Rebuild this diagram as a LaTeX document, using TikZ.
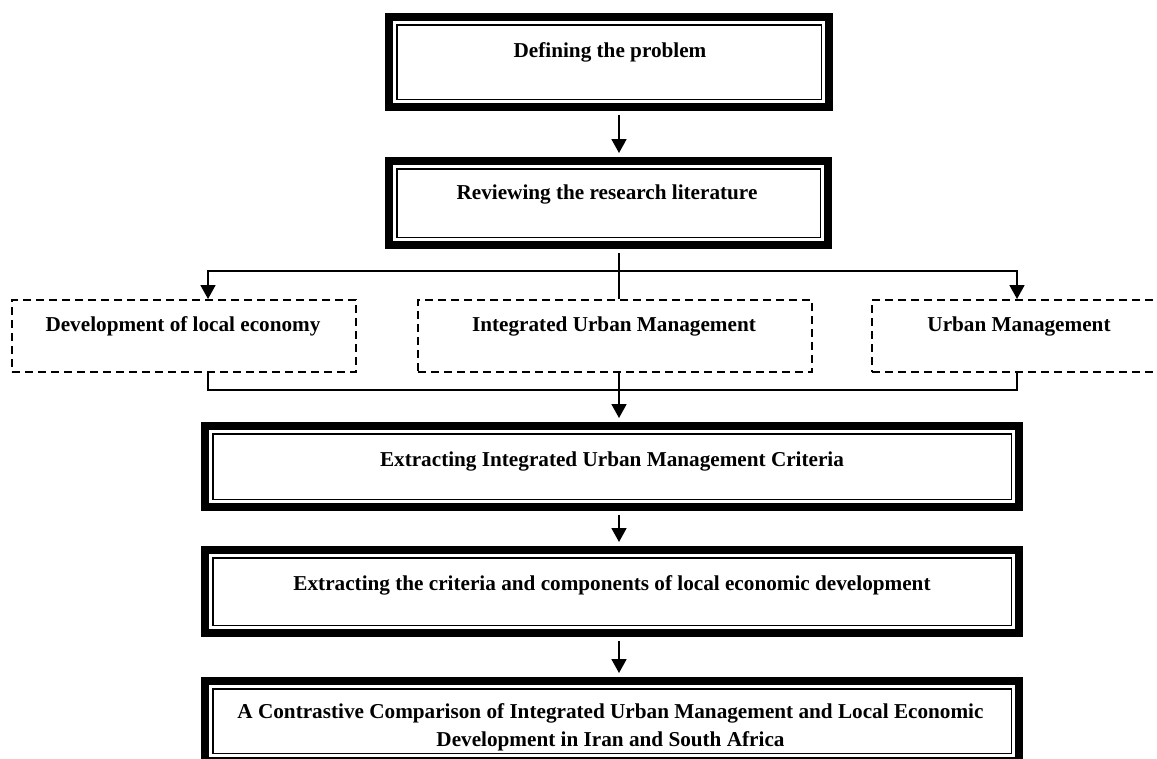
\documentclass[tikz,border=0pt]{standalone}
\usepackage{fontspec}
\setmainfont{Liberation Serif}
\usetikzlibrary{arrows.meta,calc}
\tikzset{
  frame/.style={draw, line width=8pt, inner sep=0pt,
    path picture={\draw[line width=1.8pt]
      ([shift={(7.6pt,-7.6pt)}]path picture bounding box.north west) rectangle
      ([shift={(-7.6pt,7.6pt)}]path picture bounding box.south east);}},
  dbox/.style={draw, line width=2pt, dash pattern=on 8pt off 5pt, inner sep=0pt, minimum height=72pt},
  lbl/.style={anchor=base, inner sep=0pt, align=center, font=\fontsize{21.2}{28.5}\selectfont\bfseries},
  conn/.style={line width=1.8pt},
  arr/.style={conn, -{Triangle[length=14pt,width=15pt]}},
}
\begin{document}
\begin{tikzpicture}[x=1pt,y=-1pt]
\useasboundingbox (0,0) rectangle (1157,758);
\clip (0,0) rectangle (1157,758);
% thick framed boxes
\node[frame, minimum width=440pt, minimum height=90pt] (b1) at (609,62) {};
\node[frame, minimum width=439pt, minimum height=84pt] (b2) at (608.5,203) {};
\node[frame, minimum width=814pt, minimum height=81pt] (b3) at (612,466.5) {};
\node[frame, minimum width=814pt, minimum height=83pt] (b4) at (612,591.5) {};
\node[frame, minimum width=814pt, minimum height=80pt] (b5) at (612,721) {};
% dashed boxes
\node[dbox, minimum width=344pt] (d1) at (184,336) {};
\node[dbox, minimum width=394pt] (d2) at (615,336) {};
\node[dbox, minimum width=293pt] (d3) at (1018.5,336) {};
% labels
\node[lbl] (t1) at (610,57) {Defining the problem};
\node[lbl] (t2) at (607,199) {Reviewing the research literature};
\node[lbl] (t3) at (612,466) {Extracting Integrated Urban Management Criteria};
\node[lbl] (t4) at (612,590) {Extracting the criteria and components of local economic development};
\node[lbl] (t5) at (610.5,746.5) {A Contrastive Comparison of Integrated Urban Management and Local Economic\\Development in Iran and South Africa};
\node[lbl] (t6) at (183,331) {Development of local economy};
\node[lbl] (t7) at (614,331) {Integrated Urban Management};
\node[lbl] (t8) at (1019,331) {Urban Management};
% connector coordinates
\coordinate (ax) at (619,0);
\coordinate (lx) at (208,0);
\coordinate (rx) at (1017,0);
\coordinate (sp) at (619,271);
\coordinate (jn) at (619,390);
% connectors
\draw[arr, shorten <=4pt, shorten >=4pt] (b1.south -| ax) -- (b2.north -| ax);
\draw[conn, shorten <=4pt] (b2.south -| ax) -- (d2.north -| ax);
\draw[arr] (sp) -| (d1.north -| lx);
\draw[arr] (sp) -| (d3.north -| rx);
\draw[conn] (d1.south -| lx) |- (jn) -| (d3.south -| rx);
\draw[arr, shorten >=4pt] (d2.south -| ax) -- (b3.north -| ax);
\draw[arr, shorten <=4pt, shorten >=4pt] (b3.south -| ax) -- (b4.north -| ax);
\draw[arr, shorten <=4pt, shorten >=4pt] (b4.south -| ax) -- (b5.north -| ax);
\end{tikzpicture}
\end{document}
